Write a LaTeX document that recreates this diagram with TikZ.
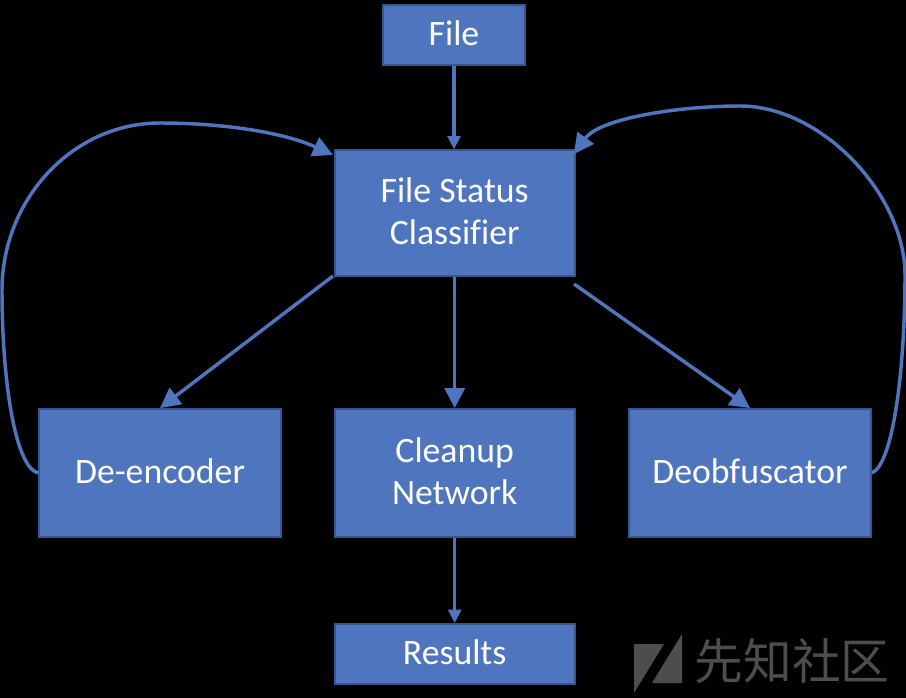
\documentclass[tikz,border=0pt]{standalone}
\usepackage{fontspec}
\setmainfont[Ligatures=NoCommon]{Carlito}
\newfontfamily\cjk{Noto Sans CJK SC}
\usetikzlibrary{arrows.meta}
\definecolor{boxfill}{HTML}{4F75BE}
\definecolor{boxline}{HTML}{35568F}
\definecolor{markgray}{HTML}{4D4D4D}
\tikzset{
  stage/.style={draw=boxline, line width=1.4pt, fill=boxfill, text=white, font=\fontsize{26.8}{31.5}\selectfont, align=center, inner sep=0pt, text depth=2.2pt},
  flow/.style={draw=boxfill, line width=2.6pt, -{Triangle[length=15pt,width=15pt]}},
  flowsmall/.style={draw=boxfill, line width=2.6pt, -{Triangle[length=10pt,width=9.5pt]}}
}
\begin{document}
\begin{tikzpicture}[x=.75pt, y=-.75pt]

    \fill[black] (0,0) rectangle (906,698);
    \useasboundingbox (0,0) rectangle (906,698);

    % Nodes
    \node[stage, minimum width=106pt, minimum height=45pt] (file) at (454,35) {File};
    \node[stage, minimum width=180pt, minimum height=94pt] (classifier) at (454.7,213) {File Status\\Classifier};
    \node[stage, minimum width=181pt, minimum height=96pt] (deencoder) at (160,473) {De-encoder};
    \node[stage, minimum width=180pt, minimum height=96pt] (cleanup) at (454.7,473) {Cleanup\\Network};
    \node[stage, minimum width=181pt, minimum height=96pt] (deobf) at (750,473) {Deobfuscator};
    \node[stage, minimum width=180pt, minimum height=45pt] (results) at (454.7,654) {Results};

    \coordinate (leftout) at (333,276);
    \coordinate (rightout) at (574,284);

    % Edges
    \draw[flowsmall] (file) -- (file |- classifier.north);
    \draw[flow] (classifier) -- (cleanup);
    \draw[flowsmall] (cleanup) -- (results);
    \draw[flow] (leftout) -- (deencoder.north);
    \draw[flow] (rightout) -- (deobf.north);
    \draw[flow] (deencoder.west) .. controls (15,468) and (2,380) .. (2,290)
        .. controls (2,200) and (72,123) .. (160,123)
        .. controls (225,123) and (285,133) .. (333,155);
    \draw[flow] (deobf.east) .. controls (893,465) and (905,370) .. (905,275)
        .. controls (905,195) and (822,106) .. (740,106)
        .. controls (680,106) and (600,118) .. (574,154);

    % Watermark
    \fill[markgray] (634,644) -- (664,644) -- (634,693) -- cycle;
    \fill[markgray] (682,634) -- (682,683) -- (652,683) -- cycle;
    \node[text=markgray, font=\cjk\fontsize{36.5}{36.5}\selectfont, inner sep=0pt] (mark) at (792,661) {先知社区};

\end{tikzpicture}
\end{document}
